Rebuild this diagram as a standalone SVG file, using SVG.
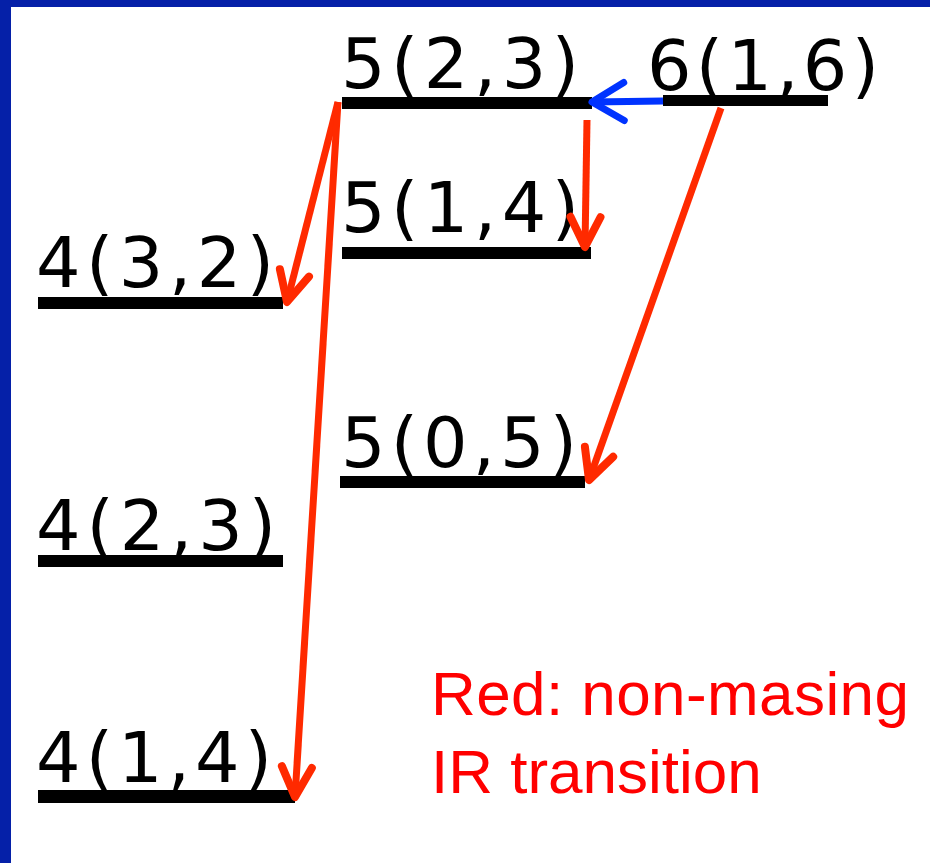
<svg xmlns="http://www.w3.org/2000/svg" width="930" height="863" viewBox="0 0 930 863">
<style>
.lbl{font-family:"DejaVu Sans","Liberation Sans",sans-serif;font-size:70px;fill:#000}
.bar{fill:#000}
.note{font-family:"Liberation Sans",Arial,sans-serif;font-size:62px;fill:#FF0000}
.red{stroke:#FF2A00;stroke-width:7;fill:none;stroke-linecap:butt}
.blue{stroke:#0033FF;stroke-width:7;fill:none}
</style>
<defs>
<marker id="arR" markerUnits="userSpaceOnUse" orient="auto" overflow="visible" markerWidth="1" markerHeight="1" refX="0" refY="0">
<path d="M-30,-15 L0,0 L-30,15" fill="none" stroke="#FF2A00" stroke-width="8" stroke-linecap="round" stroke-linejoin="round"/>
</marker>
<marker id="arB" markerUnits="userSpaceOnUse" orient="auto" overflow="visible" markerWidth="1" markerHeight="1" refX="0" refY="0">
<path d="M-32,-19 L0,0 L-32,19" fill="none" stroke="#0033FF" stroke-width="7" stroke-linecap="round" stroke-linejoin="round"/>
</marker>
</defs>
<rect x="0" y="0" width="930" height="863" fill="#0520A8"/>
<rect x="11" y="7" width="919" height="856" fill="#FFFFFF"/>

<g id="n523">
<text class="lbl" x="341" y="88" textLength="238" lengthAdjust="spacing">5(2,3)</text>
<rect class="bar" x="342" y="97" width="250" height="12"/>
</g>
<g id="n616">
<text class="lbl" x="647" y="90" textLength="232" lengthAdjust="spacing">6(1,6)</text>
<rect class="bar" x="663" y="95" width="165" height="11"/>
</g>
<g id="n514">
<text class="lbl" x="341" y="232" textLength="238" lengthAdjust="spacing">5(1,4)</text>
<rect class="bar" x="342" y="247" width="249" height="12"/>
</g>
<g id="n432">
<text class="lbl" x="36" y="287" textLength="238" lengthAdjust="spacing">4(3,2)</text>
<rect class="bar" x="38" y="297" width="245" height="12"/>
</g>
<g id="n505">
<text class="lbl" x="341" y="467" textLength="236" lengthAdjust="spacing">5(0,5)</text>
<rect class="bar" x="340" y="476" width="245" height="12"/>
</g>
<g id="n423">
<text class="lbl" x="36" y="550" textLength="240" lengthAdjust="spacing">4(2,3)</text>
<rect class="bar" x="38" y="555" width="245" height="12"/>
</g>
<g id="n414">
<text class="lbl" x="36" y="782" textLength="236" lengthAdjust="spacing">4(1,4)</text>
<rect class="bar" x="38" y="790" width="257" height="13"/>
</g>

<g id="connectors">
<line class="blue" x1="663" y1="101" x2="592" y2="102" marker-end="url(#arB)"/>
<line class="red" x1="338" y1="102" x2="287" y2="302" marker-end="url(#arR)"/>
<line class="red" x1="338" y1="102" x2="295" y2="797" marker-end="url(#arR)"/>
<line class="red" x1="587" y1="120" x2="585" y2="247" marker-end="url(#arR)"/>
<line class="red" x1="721" y1="108" x2="589" y2="480" marker-end="url(#arR)"/>
</g>

<g id="legend">
<text class="note" x="431" y="715" textLength="478" lengthAdjust="spacing">Red: non-masing</text>
<text class="note" x="431" y="793">IR transition</text>
</g>
</svg>
